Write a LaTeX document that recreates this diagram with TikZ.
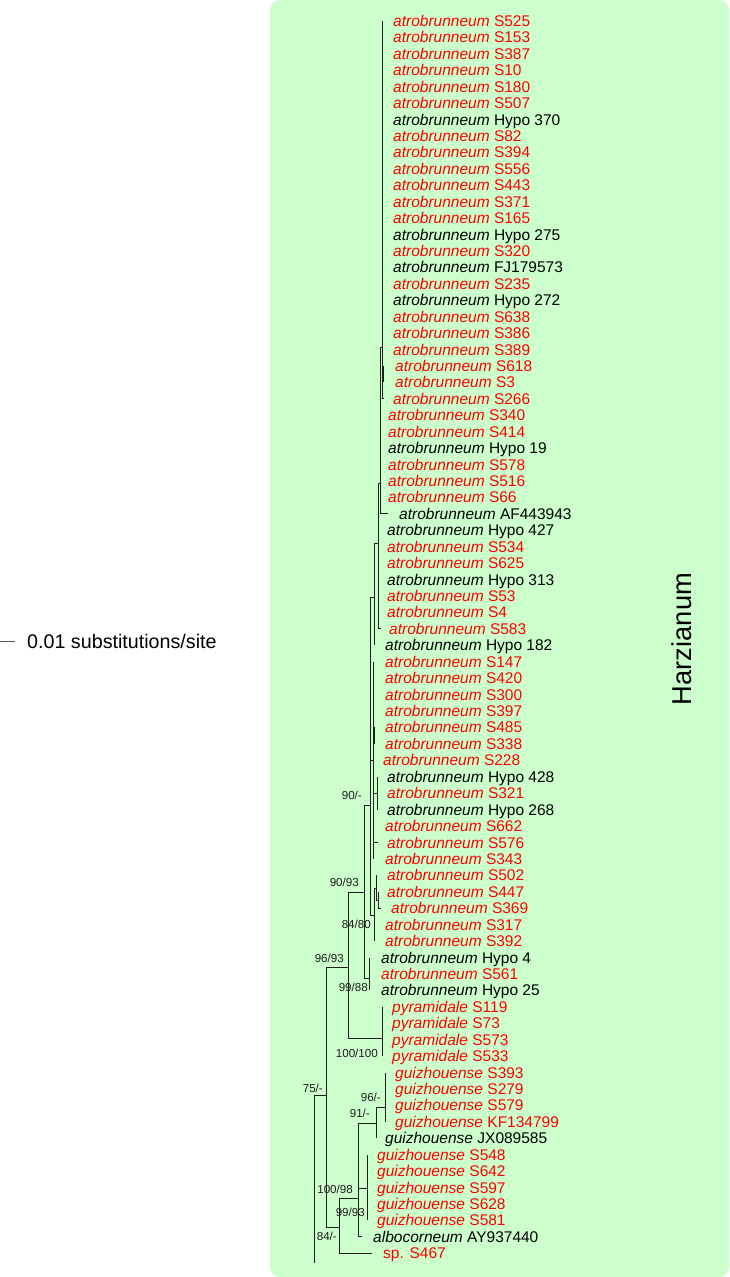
\documentclass[tikz,border=0pt]{standalone}
\usepackage{fontspec}
\setmainfont{Liberation Sans}
\usetikzlibrary{positioning}
\definecolor{hzgreen}{HTML}{CCFFCC}
\definecolor{hzred}{HTML}{FF0000}
\definecolor{hzink}{HTML}{1E1E1E}
\definecolor{hzgrey}{HTML}{555555}
\newcommand{\atro}{\textit{atrobrunneum}}
\newcommand{\pyra}{\textit{pyramidale}}
\newcommand{\guiz}{\textit{guizhouense}}
\newcommand{\albo}{\textit{albocorneum}}
\tikzset{
  br/.style={draw=hzink,line width=1pt},
  leaf/.style={anchor=west,inner sep=0pt,text height=11pt,text depth=0pt,font=\fontsize{15.5}{18}\selectfont},
  bs/.style={anchor=east,inner sep=0pt,text height=8.3pt,text depth=0pt,font=\fontsize{11.6}{14}\selectfont,text=hzink},
  clade/.style={rotate=90,inner sep=0pt,text height=19.5pt,text depth=0pt,font=\fontsize{27.3}{30}\selectfont},
}
\begin{document}
\begin{tikzpicture}[x=1pt,y=-1pt]
  \useasboundingbox (0,0) rectangle (729,1277);
  \fill[hzgreen,rounded corners=10pt] (270,0) rectangle (729,1277);
  % internal nodes of the tree
  \coordinate (root) at (314,1263);
  \coordinate (n75) at (326,1095);
  \coordinate (n84) at (339,1227);
  \coordinate (n10098) at (358,1198);
  \coordinate (nS548) at (367,1188);
  \coordinate (n91) at (376,1123);
  \coordinate (n96) at (385,1107);
  \coordinate (n9693) at (348,967);
  \coordinate (npyr) at (382,1038);
  \coordinate (n9093) at (364,892);
  \coordinate (n9988) at (369,978);
  \coordinate (n90) at (370.5,805);
  \coordinate (n8480) at (374,915);
  \coordinate (nS502) at (376,888);
  \coordinate (nS447) at (378,900);
  \coordinate (nT) at (373,760);
  \coordinate (nT2) at (374.5,735);
  \coordinate (n428) at (377,793);
  \coordinate (nR) at (374,597);
  \coordinate (nQ) at (378,543);
  \coordinate (nP) at (380,483);
  \coordinate (nS) at (382,347);
  \coordinate (nS2) at (383.5,374);
  \draw[br](root)|-(n75);\draw[br](n75)|-(n9693);\draw[br](n75)|-(n84);\draw[br](n84)|-(n10098);
  \draw[br](n10098)|-(n91);\draw[br](n10098)|-(nS548);\draw[br](n91)|-(n96);
  \draw[br](n9693)|-(n9093);\draw[br](n9693)|-(npyr);\draw[br](n9093)|-(n90);\draw[br](n9093)|-(n9988);
  \draw[br](n90)|-(nR);\draw[br](n90)|-(nT);\draw[br](n90)|-(n8480);\draw[br](n8480)|-(nS502);\draw[br](nS502)|-(nS447);
  \draw[br](nT)|-(nT2);\draw[br](nT)|-(n428);\draw[br](nR)|-(nQ);\draw[br](nQ)|-(nP);\draw[br](nP)|-(nS);\draw[br](nS)|-(nS2);
  % leaves: row/parent/tip x/label x/colour/text
  \foreach \r/\p/\tx/\lx/\c/\t in {
    1/nS/382/393/hzred/\atro\ S525, 2/nS/382/393/hzred/\atro\ S153, 3/nS/382/393/hzred/\atro\ S387,
    4/nS/382/393/hzred/\atro\ S10, 5/nS/382/393/hzred/\atro\ S180, 6/nS/382/393/hzred/\atro\ S507,
    7/nS/382/393/black/\atro\ Hypo 370, 8/nS/382/393/hzred/\atro\ S82, 9/nS/382/393/hzred/\atro\ S394,
    10/nS/382/393/hzred/\atro\ S556, 11/nS/382/393/hzred/\atro\ S443, 12/nS/382/393/hzred/\atro\ S371,
    13/nS/382/393/hzred/\atro\ S165, 14/nS/382/393/black/\atro\ Hypo 275, 15/nS/382/393/hzred/\atro\ S320,
    16/nS/382/393/black/\atro\ FJ179573, 17/nS/382/393/hzred/\atro\ S235, 18/nS/382/393/black/\atro\ Hypo 272,
    19/nS/382/393/hzred/\atro\ S638, 20/nS/382/393/hzred/\atro\ S386, 21/nS/382/393/hzred/\atro\ S389,
    22/nS2/383.5/395/hzred/\atro\ S618, 23/nS2/383.5/395/hzred/\atro\ S3, 24/nS/384/393/hzred/\atro\ S266,
    25/nP/380/388/hzred/\atro\ S340, 26/nP/380/388/hzred/\atro\ S414, 27/nP/380/388/black/\atro\ Hypo 19,
    28/nP/380/388/hzred/\atro\ S578, 29/nP/380/388/hzred/\atro\ S516, 30/nP/380/388/hzred/\atro\ S66,
    31/nP/388/399/black/\atro\ AF443943, 32/nQ/378/387/black/\atro\ Hypo 427, 33/nQ/378/387/hzred/\atro\ S534,
    34/nQ/378/387/hzred/\atro\ S625, 35/nQ/378/387/black/\atro\ Hypo 313, 36/nQ/378/387/hzred/\atro\ S53,
    37/nQ/378/387/hzred/\atro\ S4, 38/nQ/381/389/hzred/\atro\ S583, 39/nR/374/385/black/\atro\ Hypo 182,
    40/nT/373/385/hzred/\atro\ S147, 41/nT/373/385/hzred/\atro\ S420, 42/nT/373/385/hzred/\atro\ S300,
    43/nT/373/385/hzred/\atro\ S397, 44/nT2/374.5/385/hzred/\atro\ S485, 45/nT2/374.5/385/hzred/\atro\ S338,
    46/nT/373/383/hzred/\atro\ S228, 47/n428/377/387/black/\atro\ Hypo 428, 48/n428/377/387/hzred/\atro\ S321,
    49/n428/377/387/black/\atro\ Hypo 268, 50/nT/373/385/hzred/\atro\ S662, 51/nT/378/387/hzred/\atro\ S576,
    52/nT/373/385/hzred/\atro\ S343, 53/nS502/376/387/hzred/\atro\ S502, 54/nS447/378/387/hzred/\atro\ S447,
    55/nS447/381/391/hzred/\atro\ S369, 56/n8480/374/385/hzred/\atro\ S317, 57/n8480/374/385/hzred/\atro\ S392,
    58/n9988/369/381/black/\atro\ Hypo 4, 59/n9988/369/381/hzred/\atro\ S561, 60/n9988/369/381/black/\atro\ Hypo 25,
    61/npyr/382/392/hzred/\pyra\ S119, 62/npyr/382/392/hzred/\pyra\ S73, 63/npyr/382/392/hzred/\pyra\ S573,
    64/npyr/382/392/hzred/\pyra\ S533, 65/n96/385/395/hzred/\guiz\ S393, 66/n96/385/395/hzred/\guiz\ S279,
    67/n96/385/395/hzred/\guiz\ S579, 68/n96/385/395/hzred/\guiz\ KF134799, 69/n91/376/385/black/\guiz\ JX089585,
    70/nS548/367/377/hzred/\guiz\ S548, 71/nS548/367/377/hzred/\guiz\ S642, 72/nS548/367/377/hzred/\guiz\ S597,
    73/nS548/367/377/hzred/\guiz\ S628, 74/nS548/367/377/hzred/\guiz\ S581, 75/n10098/362/373/black/\albo\ AY937440,
    76/n84/372/383/hzred/sp. S467}{
    \coordinate (t\r) at (\tx,{21+(\r-1)*16.43});
    \node[leaf,text=\c] (L\r) at (\lx,{21+(\r-1)*16.43}) {\t};
    \draw[br] (\p) |- (t\r);
  }
  % support values
  \node[bs] (b90) at (362,795) {90/-};
  \node[bs] (b9093) at (359,882) {90/93};
  \node[bs] (b8480) at (371,924) {84/80};
  \node[bs] (b9693) at (344,958) {96/93};
  \node[bs] (b9988) at (368,987) {99/88};
  \node[bs] (b100) at (378,1053) {100/100};
  \node[bs] (b75) at (323,1088) {75/-};
  \node[bs] (b96) at (381,1097) {96/-};
  \node[bs] (b91) at (370,1113) {91/-};
  \node[bs] (b10098) at (353,1189) {100/98};
  \node[bs] (b9993) at (365,1212) {99/93};
  \node[bs] (b84) at (337,1236) {84/-};
  % clade name and scale bar
  \node[clade] (harz) at (681.5,639) {Harzianum};
  \coordinate (sb0) at (0,641.5);
  \coordinate (sb1) at (15,641.5);
  \draw[draw=hzgrey,line width=1pt] (sb0) -- (sb1);
  \node[leaf,right=12pt of sb1,text height=14.1pt,font=\fontsize{19.7}{22}\selectfont] (sbl) {0.01 substitutions/site};
\end{tikzpicture}
\end{document}
